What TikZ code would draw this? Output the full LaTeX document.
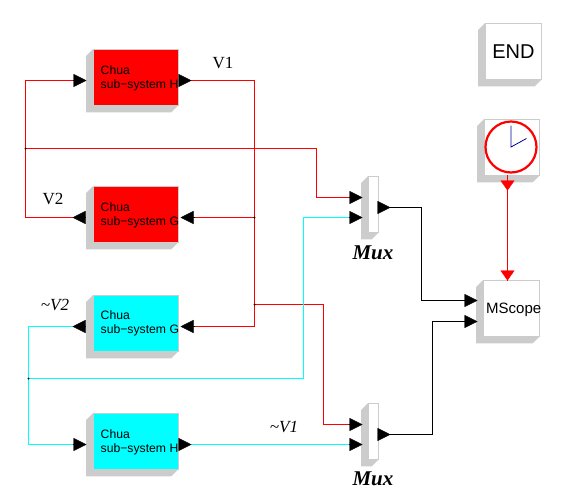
\documentclass[tikz,border=0pt]{standalone}
\usepackage{fontspec}
\setmainfont{Liberation Sans}
\newfontfamily\timesfont{Liberation Serif}
\usetikzlibrary{arrows.meta}
\definecolor{blockgrey}{HTML}{CCCCCC}
\definecolor{wirecyan}{HTML}{00FFFF}
\tikzset{
  every picture/.style={line join=miter, x=1pt, y=-1pt},
  block/.style={draw=blockgrey, line width=0.8pt, inner sep=0pt, minimum width=#1, minimum height=55.5pt, anchor=north west, xshift=-0.5pt, yshift=0.5pt},
  block/.default=84.5pt,
  chualabel/.style={anchor=west, align=left, inner sep=0pt, font=\fontsize{12.2}{14}\selectfont},
  vlabel/.style={inner sep=0pt, font=\timesfont\fontsize{17}{20}\selectfont},
  tildelabel/.style={inner sep=0pt, font=\timesfont\itshape\fontsize{17}{20}\selectfont},
  muxlabel/.style={inner sep=0pt, font=\timesfont\bfseries\itshape\fontsize{21}{24}\selectfont},
  redwire/.style={draw=red, line width=1pt},
  cyanwire/.style={draw=wirecyan, line width=1pt},
  blackwire/.style={draw=black, line width=1pt},
  head/.style={-{Triangle[length=13pt,width=13pt]}, line width=0.3pt, draw=black},
  redhead/.style={-{Triangle[length=10pt,width=14pt]}, line width=0.3pt, draw=red},
}
\begin{document}
\begin{tikzpicture}
\useasboundingbox (-0.5,-0.5) rectangle (565.5,498.5);
% blocks
\node[block,fill=red] (subH) at (93,49) {};
\node[block,fill=red] (subG) at (93,186) {};
\node[block,fill=wirecyan] (tildeG) at (93,295) {};
\node[block,fill=wirecyan] (tildeH) at (93,413) {};
\node[block=10pt,fill=white] (muxA) at (368,176) {};
\node[block=10pt,fill=white] (muxB) at (368,403) {};
\node[block=56pt,fill=white] (scope) at (483,280) {};
\node[block=56pt,fill=white] (stop) at (485,23) {};
\node[block=55pt,fill=white] (clock) at (484,119) {};
% grey sides
\foreach \b in {subH,subG,tildeG,tildeH,muxA,muxB,scope,stop,clock}{
  \fill[blockgrey] (\b.north west)--++(-7,7)--([xshift=-7pt,yshift=-7pt]\b.south west)--([xshift=-7pt,yshift=-7pt]\b.south east)--(\b.south east)--(\b.south west)--cycle;
}
% texts
\node[chualabel] (txtH) at (100,78) {Chua\\sub−system H};
\node[chualabel] (txtG) at (100,215) {Chua\\sub−system G};
\node[chualabel] (txtTG) at (100,323) {Chua\\sub−system G};
\node[chualabel] (txtTH) at (100,442) {Chua\\sub−system H};
\node[inner sep=0pt,font=\fontsize{20}{24}\selectfont] (txtEnd) at (513,51) {END};
\node[inner sep=0pt,anchor=west,font=\fontsize{15}{18}\selectfont] (txtScope) at (485.5,309) {MScope};
\node[vlabel] (lblVa) at (222.5,63) {V1};
\node[vlabel] (lblVb) at (52.5,198) {V2};
\node[tildelabel] (lblTVb) at (54.5,304) {\symbol{126}V2};
\node[tildelabel] (lblTVa) at (283.5,427) {\symbol{126}V1};
\node[muxlabel] (lblMuxA) at (372.5,252) {Mux};
\node[muxlabel] (lblMuxB) at (372.5,478) {Mux};
% clock face
\node[draw=red,line width=2.2pt,circle,minimum size=51pt,inner sep=0pt] (dial) at (510.5,146.5) {};
\draw[draw=blue!60!black,line width=0.8pt] (510.5,125)--(dial.center)--(526,138);
% ports
\coordinate (hOut) at (178,80);
\coordinate (hIn) at (72,80);
\coordinate (gOut) at (85,217);
\coordinate (gIn) at (194,217);
\coordinate (tgOut) at (85,326);
\coordinate (tgIn) at (194,326);
\coordinate (thIn) at (72,444);
\coordinate (thOut) at (178,444);
\coordinate (maIn) at (348,197);
\coordinate (maInb) at (348,217);
\coordinate (maOut) at (378,207);
\coordinate (mbIn) at (348,424);
\coordinate (mbInb) at (348,444);
\coordinate (mbOut) at (378,434);
\coordinate (scIn) at (464,300);
\coordinate (scInb) at (464,321);
% junctions
\coordinate (vaRight) at (254,80);
\coordinate (vaG) at (254,217);
\coordinate (vaSplit) at (254,304);
\coordinate (vaEnd) at (254,326);
\coordinate (vbTop) at (25,80);
\coordinate (vbBot) at (25,217);
\coordinate (vbSplit) at (25,148);
\coordinate (tvTop) at (28,326);
\coordinate (tvBot) at (28,444);
\coordinate (tvSplit) at (28,378);
% wires
\draw[redwire] (hOut)--(vaRight)--(vaEnd)--(tgIn);
\draw[redwire] (vaG)--(gIn);
\draw[redwire] (vaSplit)-|(323,424)--(mbIn);
\draw[redwire] (gOut)--(vbBot)--(vbTop)--(hIn);
\draw[redwire] (vbSplit)-|(316,197)--(maIn);
\draw[cyanwire] (tgOut)--(tvTop)--(tvBot)--(thIn);
\draw[cyanwire] (tvSplit)-|(303,217)--(maInb);
\draw[cyanwire] (thOut)--(mbInb);
\draw[blackwire] (maOut)-|(421,300)--(scIn);
\draw[blackwire] (mbOut)-|(432,321)--(scInb);
\draw[redwire] (clock.south -| 507,0)--(507,280);
% arrowheads
\draw[head] (hIn)--++(14,0);
\draw[head] (hOut)--++(13,0);
\draw[head] (gOut)--++(-13,0);
\draw[head] (gIn)--++(-14,0);
\draw[head] (tgOut)--++(-13,0);
\draw[head] (tgIn)--++(-14,0);
\draw[head] (thIn)--++(14,0);
\draw[head] (thOut)--++(13,0);
\draw[head] (maIn)--++(14,0);
\draw[head] (maInb)--++(14,0);
\draw[head] (maOut)--++(12,0);
\draw[head] (mbIn)--++(14,0);
\draw[head] (mbInb)--++(14,0);
\draw[head] (mbOut)--++(12,0);
\draw[head] (scIn)--++(13,0);
\draw[head] (scInb)--++(13,0);
\draw[redhead] (507,180)--(507,190);
\draw[redhead] (507,270)--(507,280);
% dots
\foreach \j in {vaG,vaSplit,vbSplit,tvSplit}{
  \fill[black] (\j) circle (1pt);
}
\end{tikzpicture}
\end{document}
